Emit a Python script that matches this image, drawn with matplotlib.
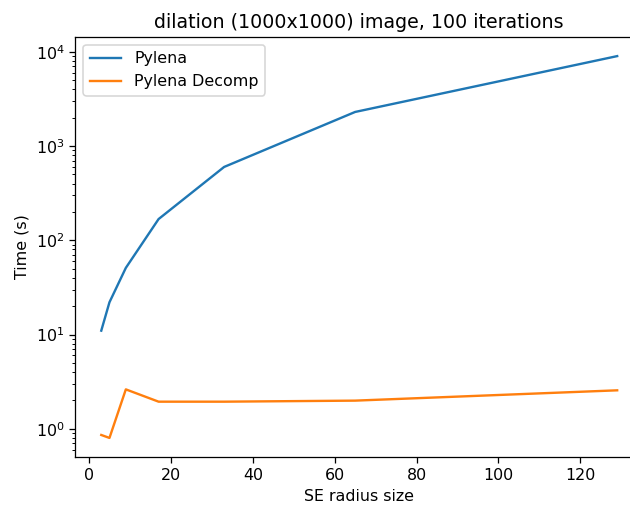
import matplotlib
matplotlib.use("Agg")
import matplotlib.pyplot as plt

# SE radius sizes and timings (s)
radius = [3, 5, 9, 17, 33, 65, 129]
pylena = [11, 22, 51, 168, 600, 2300, 9000]
pylena_decomp = [0.86, 0.80, 2.62, 1.94, 1.94, 1.99, 2.56]

fig = plt.figure(figsize=(630 / 114, 505 / 114), dpi=114)
# the reference is cropped: the right spine falls just outside the image
ax = fig.add_axes([0.1198, 0.0950, 0.9008, 0.8317])

ax.plot(radius, pylena, label="Pylena")
ax.plot(radius, pylena_decomp, label="Pylena Decomp")
ax.set_yscale("log")

ax.set_title("dilation (1000x1000) image, 100 iterations")
ax.set_xlabel("SE radius size")
ax.set_ylabel("Time (s)")
ax.legend(loc="upper left")

fig.savefig("out.png", dpi=114)
